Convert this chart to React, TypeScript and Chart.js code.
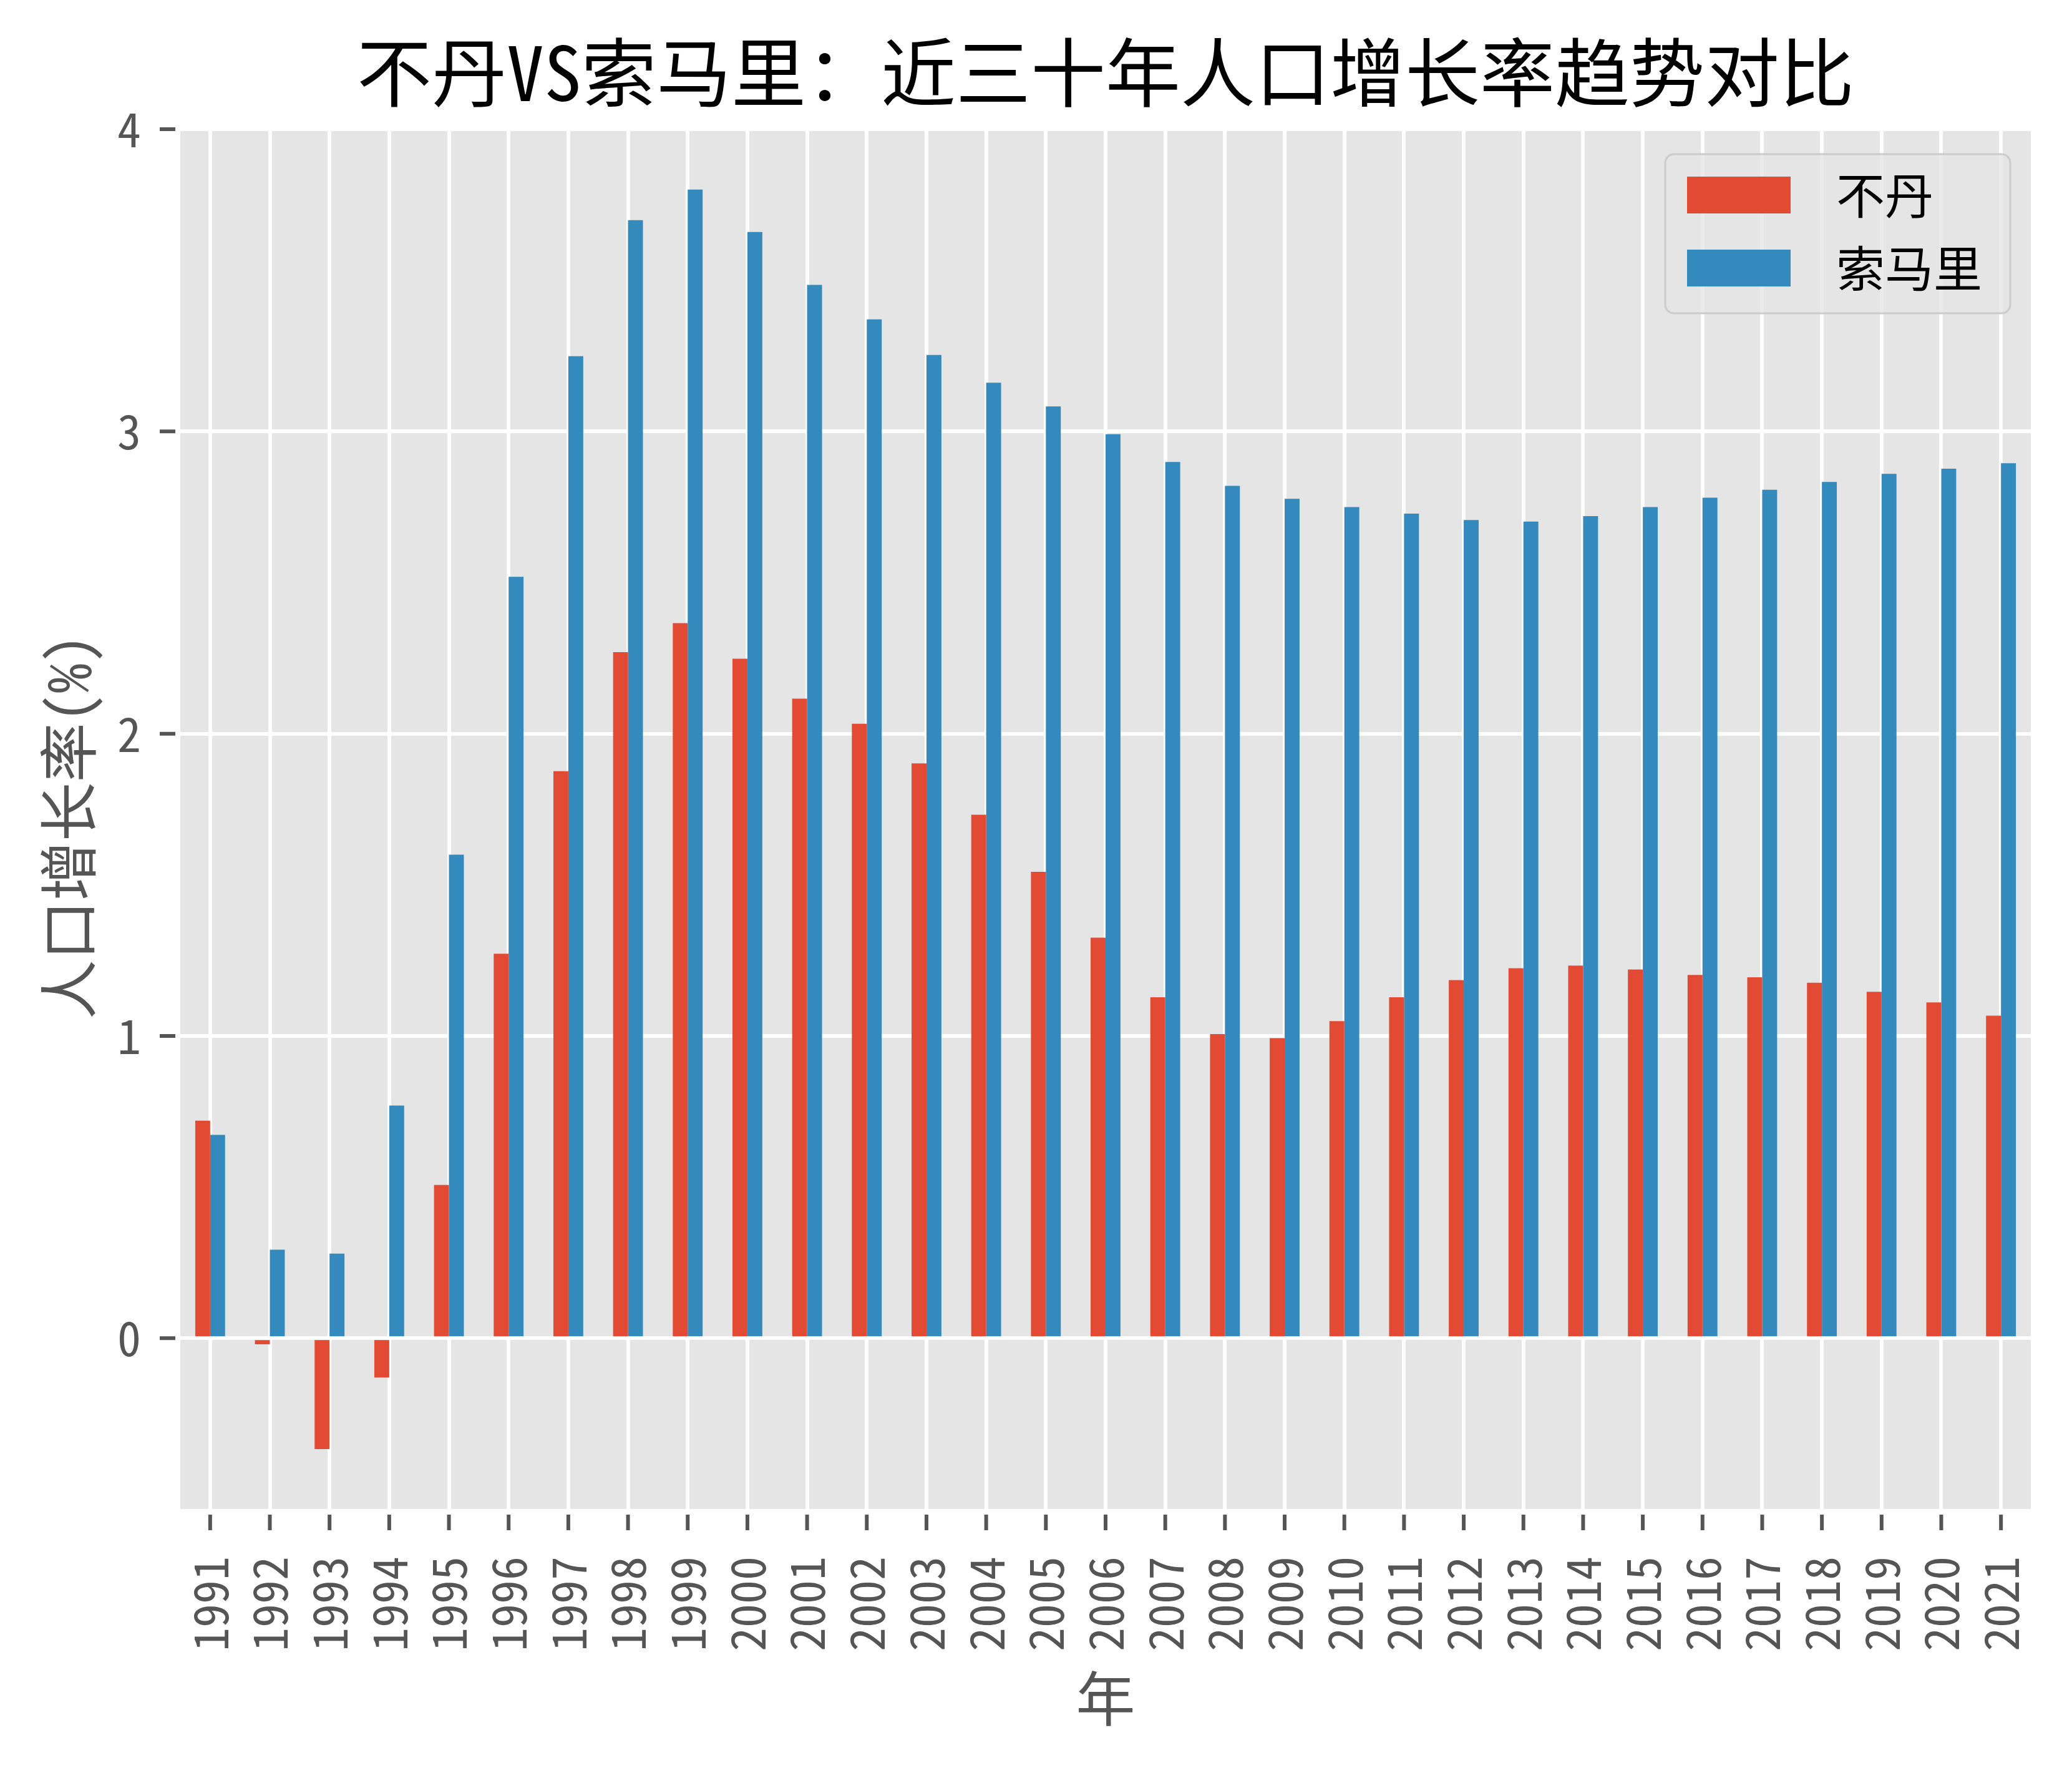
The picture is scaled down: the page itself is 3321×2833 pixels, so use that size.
import React, { useEffect, useRef } from "react";
import { Chart, registerables } from "chart.js";

Chart.register(...registerables);

const W = 3321;
const H = 2833;

const chartTitle = "不丹VS索马里：近三十年人口增长率趋势对比";
const xAxisTitle = "年";
const yAxisTitle = "人口增长率(%)";

const years = [
  "1991", "1992", "1993", "1994", "1995", "1996", "1997", "1998", "1999", "2000",
  "2001", "2002", "2003", "2004", "2005", "2006", "2007", "2008", "2009", "2010",
  "2011", "2012", "2013", "2014", "2015", "2016", "2017", "2018", "2019", "2020", "2021",
];

const seriesNames = ["不丹", "索马里"];
const seriesColors = ["#E24A33", "#348ABD"];

const bhutan = [
  0.72, -0.02, -0.367, -0.13, 0.507, 1.272, 1.876, 2.27, 2.366, 2.248,
  2.116, 2.033, 1.902, 1.732, 1.543, 1.325, 1.128, 1.006, 0.993, 1.049,
  1.128, 1.185, 1.224, 1.233, 1.22, 1.202, 1.194, 1.176, 1.146, 1.111, 1.067,
];

const somalia = [
  0.673, 0.293, 0.28, 0.77, 1.6, 2.519, 3.249, 3.699, 3.8, 3.66,
  3.485, 3.371, 3.253, 3.161, 3.083, 2.991, 2.899, 2.82, 2.777, 2.75,
  2.728, 2.707, 2.702, 2.72, 2.75, 2.781, 2.807, 2.833, 2.86, 2.877, 2.895,
];

const yTicks = [0, 1, 2, 3, 4];
const yMin = -0.565;
const yMax = 4.0;

const FONT = "'Noto Sans Mono CJK SC', 'Noto Sans CJK SC', 'Noto Sans', sans-serif";

const decorPlugin = {
  id: "decor",
  beforeDraw(chart: any) {
    const { ctx, chartArea } = chart;
    ctx.save();
    ctx.fillStyle = "#ffffff";
    ctx.fillRect(0, 0, chart.width, chart.height);
    ctx.fillStyle = "#E5E5E5";
    ctx.fillRect(chartArea.left, chartArea.top, chartArea.right - chartArea.left, chartArea.bottom - chartArea.top);
    ctx.restore();
  },
  afterDraw(chart: any) {
    const { ctx, chartArea, scales } = chart;
    const cx = (chartArea.left + chartArea.right) / 2;
    const cy = (chartArea.top + chartArea.bottom) / 2;
    ctx.save();

    // title
    ctx.fillStyle = "#000000";
    ctx.font = `120px ${FONT}`;
    ctx.textAlign = "center";
    ctx.textBaseline = "middle";
    ctx.fillText(chartTitle, cx, 116);

    // tick marks (small gap from the axes like the reference)
    ctx.strokeStyle = "#555555";
    ctx.lineWidth = 6;
    ctx.beginPath();
    scales.y.ticks.forEach((t: any) => {
      const y = scales.y.getPixelForValue(t.value);
      ctx.moveTo(chartArea.left - 33, y);
      ctx.lineTo(chartArea.left - 8, y);
    });
    years.forEach((_, i) => {
      const x = scales.x.getPixelForTick(i);
      ctx.moveTo(x, chartArea.bottom + 9);
      ctx.lineTo(x, chartArea.bottom + 34);
    });
    ctx.stroke();

    // axis titles
    ctx.fillStyle = "#555555";
    ctx.font = `95px ${FONT}`;
    ctx.textAlign = "center";
    ctx.textBaseline = "middle";
    ctx.fillText(xAxisTitle, cx, 2722);
    ctx.save();
    ctx.translate(110, cy + 12);
    ctx.rotate(-Math.PI / 2);
    ctx.fillText(yAxisTitle, 0, 0);
    ctx.restore();

    // legend
    const bx = 2669, by = 247, bw = 553, bh = 255, r = 14;
    ctx.beginPath();
    ctx.moveTo(bx + r, by);
    ctx.lineTo(bx + bw - r, by);
    ctx.arcTo(bx + bw, by, bx + bw, by + r, r);
    ctx.lineTo(bx + bw, by + bh - r);
    ctx.arcTo(bx + bw, by + bh, bx + bw - r, by + bh, r);
    ctx.lineTo(bx + r, by + bh);
    ctx.arcTo(bx, by + bh, bx, by + bh - r, r);
    ctx.lineTo(bx, by + r);
    ctx.arcTo(bx, by, bx + r, by, r);
    ctx.closePath();
    ctx.fillStyle = "rgba(229,229,229,0.8)";
    ctx.fill();
    ctx.lineWidth = 3;
    ctx.strokeStyle = "#CCCCCC";
    ctx.stroke();

    const rows = [283, 400];
    seriesNames.forEach((name, i) => {
      ctx.fillStyle = seriesColors[i];
      ctx.fillRect(2704, rows[i], 166, 59);
      ctx.fillStyle = "#000000";
      ctx.font = `78px ${FONT}`;
      ctx.textAlign = "left";
      ctx.textBaseline = "middle";
      ctx.fillText(name, 2943, rows[i] + 30);
    });
    ctx.restore();
  },
};

export default function App() {
  const canvasRef = useRef<HTMLCanvasElement | null>(null);

  useEffect(() => {
    document.body.style.margin = "0";
    const canvas = canvasRef.current;
    if (!canvas) return;
    const datasets = [bhutan, somalia].map((d, i) => ({
      label: seriesNames[i],
      data: d,
      backgroundColor: seriesColors[i],
      borderWidth: 0,
      categoryPercentage: 0.5,
      barPercentage: 1.0,
    }));
    const chart = new Chart(canvas, {
      type: "bar",
      data: { labels: years, datasets },
      options: {
        responsive: false,
        animation: false,
        devicePixelRatio: 1,
        layout: { padding: { left: 0, right: 66, top: 207, bottom: 0 } },
        plugins: {
          legend: { display: false },
          tooltip: { enabled: false },
          title: { display: false },
        },
        scales: {
          x: {
            offset: true,
            border: { display: false },
            grid: {
              offset: false,
              color: "#ffffff",
              lineWidth: 6,
              drawTicks: false,
            },
            ticks: {
              autoSkip: false,
              minRotation: 90,
              maxRotation: 90,
              color: "#555555",
              font: { family: FONT, size: 76 },
              padding: 76,
            },
            afterFit(scale: any) {
              scale.height = 415;
              scale.paddingLeft = 0;
              scale.paddingRight = 0;
            },
          },
          y: {
            min: yMin,
            max: yMax,
            border: { display: false },
            grid: {
              color: "#ffffff",
              lineWidth: 6,
              drawTicks: false,
            },
            ticks: {
              color: "#555555",
              font: { family: FONT, size: 76 },
              padding: 63,
            },
            afterBuildTicks(scale: any) {
              scale.ticks = yTicks.map((v) => ({ value: v }));
            },
            afterFit(scale: any) {
              scale.width = 289;
              scale.paddingTop = 0;
              scale.paddingBottom = 0;
            },
          },
        },
      },
      plugins: [decorPlugin],
    } as any);
    return () => chart.destroy();
  }, []);

  return (
    <canvas
      ref={canvasRef}
      width={W}
      height={H}
      style={{ display: "block", position: "absolute", left: 0, top: 0, width: W, height: H }}
    />
  );
}
